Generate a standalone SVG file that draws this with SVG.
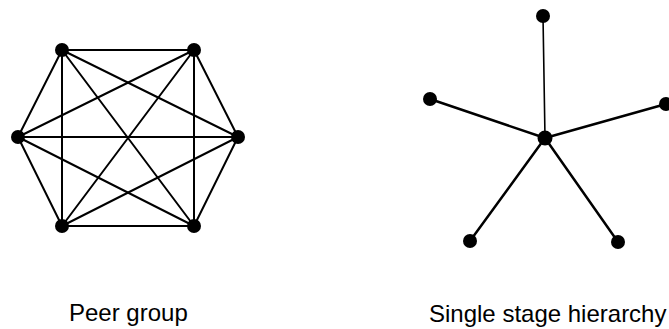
<svg xmlns="http://www.w3.org/2000/svg" width="669" height="329" viewBox="0 0 669 329">
<style>
.e{stroke:#000;stroke-width:2;fill:none;stroke-linecap:round}
.s{stroke:#000;stroke-width:2.5;fill:none;stroke-linecap:round}
.n{fill:#000}
.t{font-family:"Liberation Sans",Arial,sans-serif;font-size:24px;fill:#000}
</style>
<rect width="669" height="329" fill="#fff"/>
<g id="connectors">
<g id="peer-edges">
<line class="e" x1="62" y1="50" x2="194" y2="50"/>
<line class="e" x1="194" y1="50" x2="238" y2="137"/>
<line class="e" x1="238" y1="137" x2="194" y2="226"/>
<line class="e" x1="194" y1="226" x2="62" y2="226"/>
<line class="e" x1="62" y1="226" x2="18" y2="137"/>
<line class="e" x1="18" y1="137" x2="62" y2="50"/>
<line class="e" x1="62" y1="50" x2="238" y2="137"/>
<line class="e" x1="62" y1="50" x2="194" y2="226"/>
<line class="e" x1="62" y1="50" x2="62" y2="226"/>
<line class="e" x1="194" y1="50" x2="18" y2="137"/>
<line class="e" x1="194" y1="50" x2="62" y2="226"/>
<line class="e" x1="194" y1="50" x2="194" y2="226"/>
<line class="e" x1="18" y1="137" x2="238" y2="137"/>
<line class="e" x1="18" y1="137" x2="194" y2="226"/>
<line class="e" x1="238" y1="137" x2="62" y2="226"/>
</g>
<g id="star-edges">
<line class="s" style="stroke-width:1.6" x1="545" y1="138" x2="543" y2="16"/>
<line class="s" x1="545" y1="138" x2="430" y2="99"/>
<line class="s" x1="545" y1="138" x2="666" y2="104"/>
<line class="s" x1="545" y1="138" x2="470" y2="241"/>
<line class="s" x1="545" y1="138" x2="618" y2="242"/>
</g>
</g>
<g id="peer-tl"><circle class="n" cx="62" cy="50" r="7"/></g>
<g id="peer-tr"><circle class="n" cx="194" cy="50" r="7"/></g>
<g id="peer-l"><circle class="n" cx="18" cy="137" r="7"/></g>
<g id="peer-r"><circle class="n" cx="238" cy="137" r="7"/></g>
<g id="peer-bl"><circle class="n" cx="62" cy="226" r="7"/></g>
<g id="peer-br"><circle class="n" cx="194" cy="226" r="7"/></g>
<g id="star-center"><circle class="n" cx="545" cy="138" r="7.5"/></g>
<g id="star-top"><circle class="n" cx="543" cy="16" r="7"/></g>
<g id="star-left"><circle class="n" cx="430" cy="99" r="7"/></g>
<g id="star-right"><circle class="n" cx="666" cy="104" r="7"/></g>
<g id="star-bl"><circle class="n" cx="470" cy="241" r="7"/></g>
<g id="star-br"><circle class="n" cx="618" cy="242" r="7"/></g>
<g id="labels">
<text class="t" x="69" y="321">Peer group</text>
<text class="t" x="429" y="322">Single stage hierarchy</text>
</g>
</svg>
